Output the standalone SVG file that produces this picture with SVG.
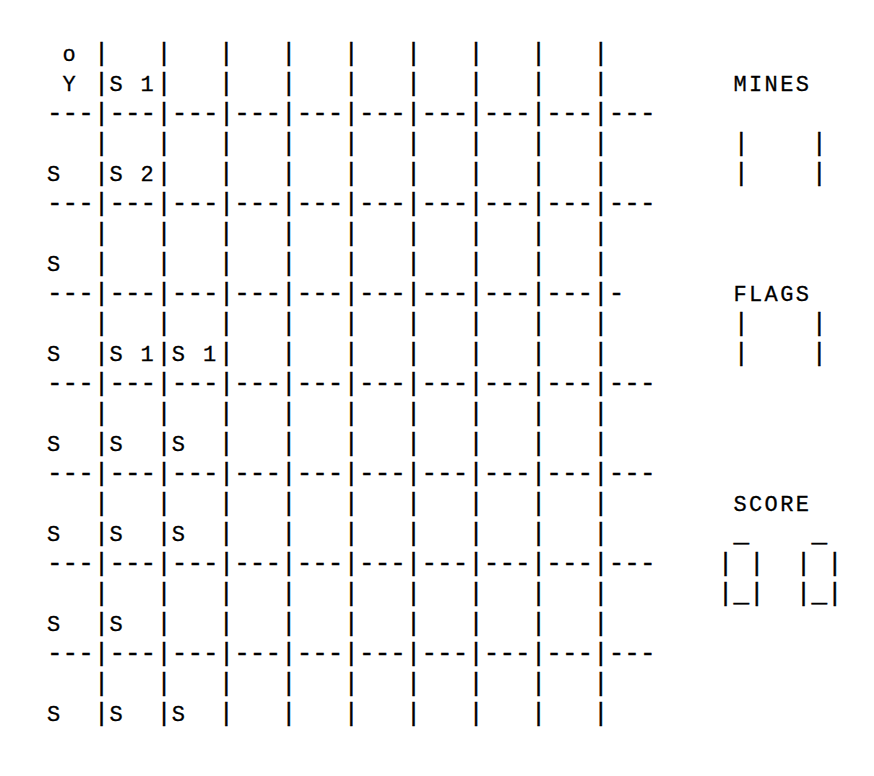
<svg xmlns="http://www.w3.org/2000/svg" width="874" height="776" viewBox="0 0 874 776">
<style>
.g{font-family:"Liberation Mono","DejaVu Sans Mono",monospace;font-size:26px;fill:#000;stroke:#000;stroke-width:0.35px;white-space:pre}
.t{font-size:22px;letter-spacing:2.4px;stroke-width:0.3px}
.h{font-family:"Liberation Mono","DejaVu Sans Mono",monospace;font-size:22px;fill:#000;stroke:#000;stroke-width:0.3px;letter-spacing:2.4px}
</style>
<rect width="874" height="776" fill="#fff"/>
<g id="board" xml:space="preserve">
<text class="g" y="61"><tspan class="t" x="62.6">o</tspan><tspan x="93.8">|   |   |   |   |   |   |   |   |</tspan></text>
<text class="g" y="91"><tspan class="t" x="62.6">Y</tspan><tspan x="93.8">|</tspan><tspan class="t" x="109.4">S 1</tspan><tspan x="156.2">|   |   |   |   |   |   |   |</tspan></text>
<text class="g" x="47" y="121">---|---|---|---|---|---|---|---|---|---</text>
<text class="g" x="93.8" y="151">|   |   |   |   |   |   |   |   |</text>
<text class="g" y="181"><tspan class="t" x="47">S</tspan><tspan x="93.8">|</tspan><tspan class="t" x="109.4">S 2</tspan><tspan x="156.2">|   |   |   |   |   |   |   |</tspan></text>
<text class="g" x="47" y="211">---|---|---|---|---|---|---|---|---|---</text>
<text class="g" x="93.8" y="241">|   |   |   |   |   |   |   |   |</text>
<text class="g" y="271"><tspan class="t" x="47">S</tspan><tspan x="93.8">|   |   |   |   |   |   |   |   |</tspan></text>
<text class="g" x="47" y="301">---|---|---|---|---|---|---|---|---|-</text>
<text class="g" x="93.8" y="331">|   |   |   |   |   |   |   |   |</text>
<text class="g" y="361"><tspan class="t" x="47">S</tspan><tspan x="93.8">|</tspan><tspan class="t" x="109.4">S 1</tspan><tspan x="156.2">|</tspan><tspan class="t" x="171.8">S 1</tspan><tspan x="218.6">|   |   |   |   |   |   |</tspan></text>
<text class="g" x="47" y="391">---|---|---|---|---|---|---|---|---|---</text>
<text class="g" x="93.8" y="421">|   |   |   |   |   |   |   |   |</text>
<text class="g" y="451"><tspan class="t" x="47">S</tspan><tspan x="93.8">|</tspan><tspan class="t" x="109.4">S</tspan><tspan x="156.2">|</tspan><tspan class="t" x="171.8">S</tspan><tspan x="218.6">|   |   |   |   |   |   |</tspan></text>
<text class="g" x="47" y="481">---|---|---|---|---|---|---|---|---|---</text>
<text class="g" x="93.8" y="511">|   |   |   |   |   |   |   |   |</text>
<text class="g" y="541"><tspan class="t" x="47">S</tspan><tspan x="93.8">|</tspan><tspan class="t" x="109.4">S</tspan><tspan x="156.2">|</tspan><tspan class="t" x="171.8">S</tspan><tspan x="218.6">|   |   |   |   |   |   |</tspan></text>
<text class="g" x="47" y="571">---|---|---|---|---|---|---|---|---|---</text>
<text class="g" x="93.8" y="601">|   |   |   |   |   |   |   |   |</text>
<text class="g" y="631"><tspan class="t" x="47">S</tspan><tspan x="93.8">|</tspan><tspan class="t" x="109.4">S</tspan><tspan x="156.2">|   |   |   |   |   |   |   |</tspan></text>
<text class="g" x="47" y="661">---|---|---|---|---|---|---|---|---|---</text>
<text class="g" x="93.8" y="691">|   |   |   |   |   |   |   |   |</text>
<text class="g" y="721"><tspan class="t" x="47">S</tspan><tspan x="93.8">|</tspan><tspan class="t" x="109.4">S</tspan><tspan x="156.2">|</tspan><tspan class="t" x="171.8">S</tspan><tspan x="218.6">|   |   |   |   |   |   |</tspan></text>
</g>
<g id="mines" xml:space="preserve">
<text class="h" x="733.4" y="91">MINES</text>
<text class="g" x="733.4" y="151">|    |</text>
<text class="g" x="733.4" y="181">|    |</text>
</g>
<g id="flags" xml:space="preserve">
<text class="h" x="733.4" y="301">FLAGS</text>
<text class="g" x="733.4" y="331">|    |</text>
<text class="g" x="733.4" y="361">|    |</text>
</g>
<g id="score" xml:space="preserve">
<text class="h" x="733.4" y="511">SCORE</text>
<text class="g" x="717.8" y="541"> _    _</text>
<text class="g" x="717.8" y="571">| |  | |</text>
<text class="g" x="717.8" y="601">|_|  |_|</text>
</g>
</svg>
